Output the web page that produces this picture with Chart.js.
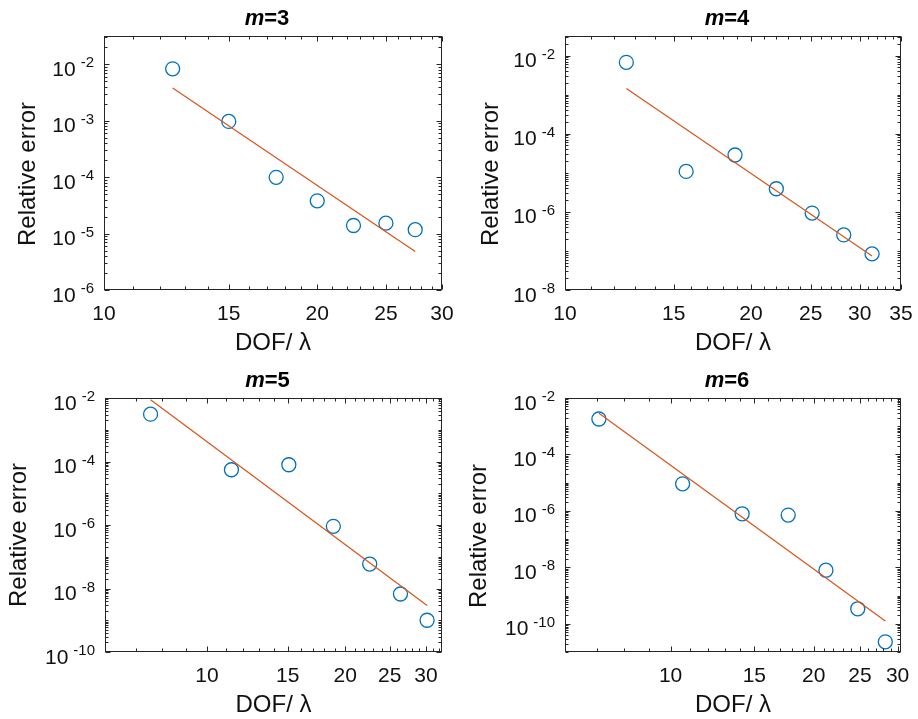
<!DOCTYPE html>
<html>
<head>
<meta charset="utf-8">
<script src="https://cdn.jsdelivr.net/npm/chart.js@4.4.1/dist/chart.umd.min.js"></script>
<style>
    html, body { margin: 0; padding: 0; background: #fff; }
    #wrap { position: relative; width: 918px; height: 719px; }
    canvas { position: absolute; }
</style>
</head>
<body>
<div id="wrap">
    <canvas id="c3" width="458" height="358" style="left:0;top:0"></canvas>
    <canvas id="c4" width="460" height="358" style="left:458px;top:0"></canvas>
    <canvas id="c5" width="458" height="361" style="left:0;top:358px"></canvas>
    <canvas id="c6" width="460" height="361" style="left:458px;top:358px"></canvas>
</div>
<script>
// m = 3
const dof3 = [12.5, 15, 17.5, 20, 22.5, 25, 27.5];
const err3 = [8.3e-3, 9.7e-4, 9.9e-5, 3.8e-5, 1.39e-5, 1.53e-5, 1.17e-5];
const fitDof3 = [12.5, 27.5];
const fitErr3 = [3.8e-3, 4.8e-6];
const xTicks3 = [10, 15, 20, 25, 30];
const yExps3 = [-6, -5, -4, -3, -2];

// m = 4
const dof4 = [12.57, 15.71, 18.85, 21.99, 25.13, 28.27, 31.42];
const err4 = [6.7e-3, 1.08e-5, 2.85e-5, 3.9e-6, 9.3e-7, 2.57e-7, 8.4e-8];
const fitDof4 = [12.57, 31.42];
const fitErr4 = [1.43e-3, 7.4e-8];
const xTicks4 = [10, 15, 20, 25, 30, 35];
const yExps4 = [-8, -6, -4, -2];

// m = 5
const dof5 = [7.54, 11.31, 15.08, 18.85, 22.62, 26.39, 30.16];
const err5 = [3.1e-3, 5.5e-5, 7.9e-5, 9.1e-7, 5.9e-8, 6.7e-9, 1.0e-9];
const fitDof5 = [7.54, 30.16];
const fitErr5 = [8.85e-3, 2.9e-9];
const xTicks5 = [10, 15, 20, 25, 30];
const yExps5 = [-10, -8, -6, -4, -2];

// m = 6
const dof6 = [7.07, 10.60, 14.14, 17.67, 21.21, 24.74, 28.27];
const err6 = [1.8e-3, 9.1e-6, 7.9e-7, 7.1e-7, 7.9e-9, 3.4e-10, 2.3e-11];
const fitDof6 = [7.07, 28.27];
const fitErr6 = [2.9e-3, 1.26e-10];
const xTicks6 = [10, 15, 20, 25, 30];
const yExps6 = [-10, -8, -6, -4, -2];

const FONT = '"Liberation Sans", Arial, Helvetica, sans-serif';
const INK = '#262626';
const TEXT = '#111';

const toPts = (xs, ys) => xs.map((v, i) => ({ x: v, y: ys[i] }));

// MATLAB-like box, inward ticks, 10^n labels, titles
const matlabAxes = {
    id: 'matlabAxes',
    afterDraw(chart, args, o) {
        const { ctx, chartArea: a, scales: { x, y } } = chart;
        const L = Math.round(a.left) + 0.5, R = Math.round(a.right) - 0.5;
        const T = Math.round(a.top) + 0.5, B = Math.round(a.bottom) - 0.5;
        const line = (x1, y1, x2, y2) => { ctx.beginPath(); ctx.moveTo(x1, y1); ctx.lineTo(x2, y2); ctx.stroke(); };
        ctx.save();
        ctx.strokeStyle = INK;
        ctx.lineWidth = 1;
        ctx.strokeRect(L, T, R - L, B - T);

        for (let v = Math.ceil(x.min); v <= x.max; v++) {
            const p = Math.round(x.getPixelForValue(v)) + 0.5;
            const len = o.xTicks.includes(v) ? 5 : 3;
            line(p, B, p, B - len);
            line(p, T, p, T + len);
        }
        const e0 = Math.floor(Math.log10(y.min)), e1 = Math.ceil(Math.log10(y.max));
        for (let e = e0; e <= e1; e++) {
            for (let k = 1; k < 10; k++) {
                const v = k * Math.pow(10, e);
                if (v < y.min * 0.999 || v > y.max * 1.001) continue;
                const p = Math.round(y.getPixelForValue(v)) + 0.5;
                const len = (k === 1 && o.yExps.includes(e)) ? 5 : 3;
                line(L, p, L + len, p);
                line(R, p, R - len, p);
            }
        }

        ctx.fillStyle = TEXT;
        ctx.textBaseline = 'alphabetic';
        ctx.textAlign = 'center';
        ctx.font = '21px ' + FONT;
        o.xTicks.forEach(v => ctx.fillText(String(v), x.getPixelForValue(v), a.bottom + 30));

        ctx.textAlign = 'right';
        o.yExps.forEach(e => {
            const p = y.getPixelForValue(Math.pow(10, e));
            const sup = String(e);
            ctx.font = '15px ' + FONT;
            const sw = ctx.measureText(sup).width;
            ctx.fillText(sup, a.left - 10, p + 3);
            ctx.font = '21px ' + FONT;
            ctx.fillText('10', a.left - 15 - sw, p + 11.5);
        });

        ctx.textAlign = 'center';
        ctx.font = '24px ' + FONT;
        ctx.fillText('DOF/ \u03bb', (a.left + a.right) / 2, a.bottom + 60);

        ctx.save();
        ctx.translate(o.yLabelX, o.yLabelY);
        ctx.rotate(-Math.PI / 2);
        ctx.fillText('Relative error', 0, 0);
        ctx.restore();

        // title: italic m, then =n
        ctx.fillStyle = '#000';
        ctx.textAlign = 'left';
        ctx.font = 'italic bold 22px ' + FONT;
        const wm = ctx.measureText('m').width;
        ctx.font = 'bold 22px ' + FONT;
        const rest = '=' + o.m;
        const wr = ctx.measureText(rest).width;
        const sx = (a.left + a.right) / 2 - 6 - (wm + wr) / 2;
        ctx.font = 'italic bold 22px ' + FONT;
        ctx.fillText('m', sx, a.top - 11);
        ctx.font = 'bold 22px ' + FONT;
        ctx.fillText(rest, sx + wm, a.top - 11);
        ctx.restore();
    }
};

function makePanel(id, m, dof, err, fitDof, fitErr, xr, yr, xTicks, yExps, pad, yLabelX, yLabelY) {
    new Chart(document.getElementById(id), {
        type: 'scatter',
        data: {
            datasets: [
                { data: toPts(fitDof, fitErr), showLine: true, borderColor: '#D95319', borderWidth: 1.2, pointRadius: 0, clip: false },
                { data: toPts(dof, err), pointStyle: 'circle', pointRadius: 7, borderColor: '#0072BD', borderWidth: 1.3, backgroundColor: 'rgba(0,0,0,0)', clip: false }
            ]
        },
        options: {
            responsive: false,
            animation: false,
            events: [],
            layout: { padding: pad },
            plugins: {
                legend: { display: false },
                tooltip: { enabled: false },
                matlabAxes: { m, xTicks, yExps, yLabelX, yLabelY }
            },
            scales: {
                x: { type: 'logarithmic', min: xr[0], max: xr[1], display: false },
                y: { type: 'logarithmic', min: yr[0], max: yr[1], display: false }
            }
        },
        plugins: [matlabAxes]
    });
}

makePanel('c3', 3, dof3, err3, fitDof3, fitErr3, [10, 30], [1e-6, Math.pow(10, -1.5)], xTicks3, yExps3,
    { left: 104, right: 16, top: 36, bottom: 68 }, 35, 174);
makePanel('c4', 4, dof4, err4, fitDof4, fitErr4, [10, 35], [1e-8, Math.pow(10, -1.5)], xTicks4, yExps4,
    { left: 107, right: 17, top: 36, bottom: 68 }, 40, 174);
makePanel('c5', 5, dof5, err5, fitDof5, fitErr5, [6, 32.5], [1e-10, 1e-2], xTicks5, yExps5,
    { left: 105, right: 16, top: 40, bottom: 67 }, 26, 177);
makePanel('c6', 6, dof6, err6, fitDof6, fitErr6, [6, 30.5], [1e-11, 1e-2], xTicks6, yExps6,
    { left: 107, right: 17, top: 40, bottom: 67 }, 28, 178);
</script>
</body>
</html>
